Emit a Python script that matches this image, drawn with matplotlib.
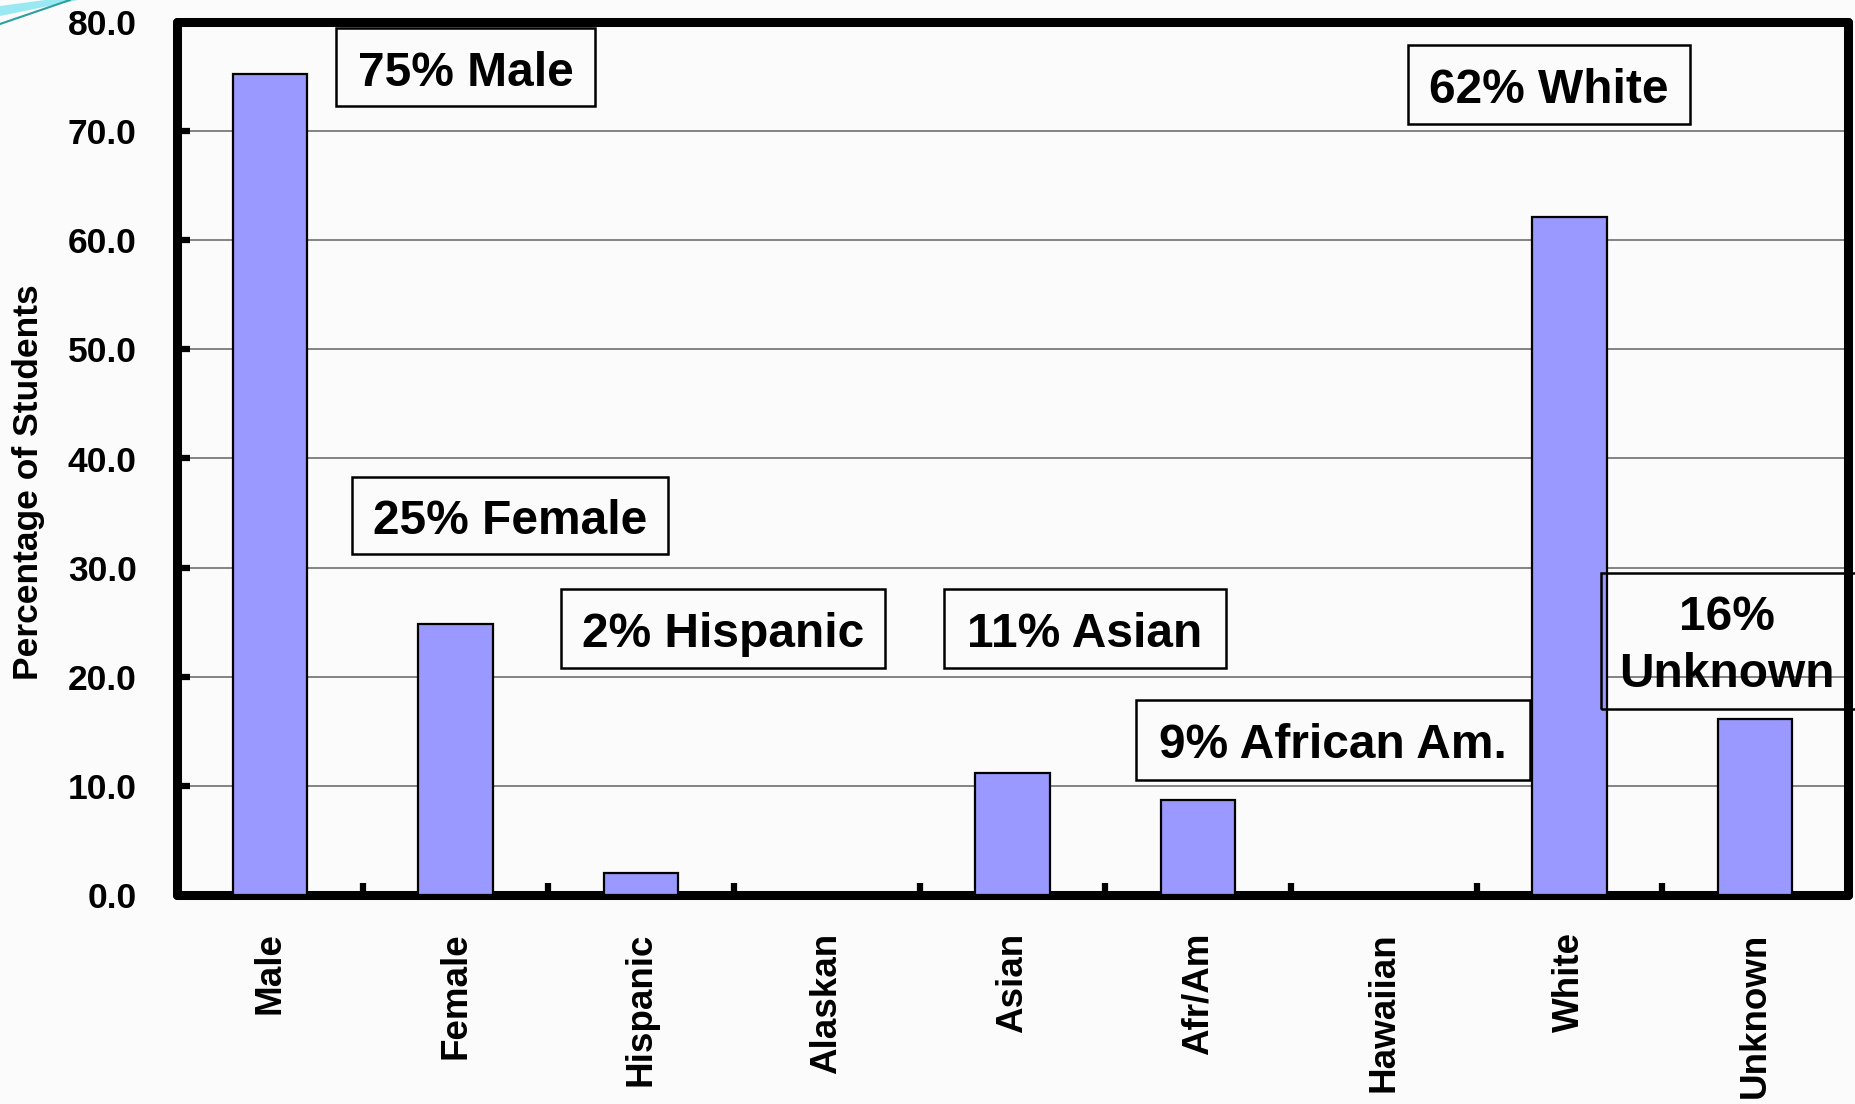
import matplotlib
matplotlib.use("Agg")
import matplotlib.pyplot as plt
from matplotlib.patches import Rectangle, Polygon
from matplotlib.lines import Line2D

plt.rcParams['font.family'] = ['Liberation Sans', 'DejaVu Sans']
plt.rcParams['font.weight'] = 'bold'

# ---- data ----
categories = ["Male", "Female", "Hispanic", "Alaskan", "Asian", "Afr/Am", "Hawaiian", "White", "Unknown"]
percentages = [75.2, 24.8, 2.0, 0.0, 11.2, 8.7, 0.0, 62.1, 16.1]
y_ticks = [0, 10, 20, 30, 40, 50, 60, 70, 80]
y_label = "Percentage of Students"
callout_texts = ["75% Male", "25% Female", "2% Hispanic", "11% Asian",
                 "9% African Am.", "62% White", "16%\nUnknown"]

W, H = 1855, 1104
fig = plt.figure(figsize=(W / 100, H / 100), dpi=100)
bg = '#fbfbfb'
fig.patch.set_facecolor(bg)

def fx(px):
    return px / W

def fy(py):
    return 1 - py / H

ax_l, ax_r, ax_t, ax_b = 177, 1848, 22, 895
ax = fig.add_axes([fx(ax_l), fy(ax_b), (ax_r - ax_l) / W, (ax_b - ax_t) / H])
ax.set_facecolor(bg)

x = list(range(len(categories)))
ax.bar(x, percentages, width=0.4, color='#9999FF', edgecolor='black', linewidth=1.6, zorder=3)

ax.set_xlim(-0.5, len(categories) - 0.5)
ax.set_ylim(0, 80)
ax.set_yticks(y_ticks)
ax.set_yticklabels([f"{v:.1f}" for v in y_ticks], fontsize=25.5, fontweight='bold')
ax.set_xticks(x)
ax.set_xticklabels(categories, rotation=90, fontsize=26.5, fontweight='bold')
ax.set_xticks([i + 0.5 for i in range(len(categories) - 1)], minor=True)

ax.tick_params(axis='x', which='major', length=0, pad=27)
ax.tick_params(axis='x', which='minor', direction='in', length=9, width=4.5, color='black')
ax.tick_params(axis='y', which='major', direction='in', length=9, width=4.5, color='black', pad=29)

ax.yaxis.grid(True, color='#7a7a7a', linewidth=1.3, zorder=0)
ax.set_axisbelow(True)
for s in ax.spines.values():
    s.set_linewidth(6.5)
    s.set_color('black')
    s.set_capstyle('round')

fig.text(fx(29), fy(482), y_label, rotation=90, ha='center', va='center',
         fontsize=25.5, fontweight='bold')

# ---- callout boxes (layout in pixels) ----
boxes = [(336, 28, 595, 106), (352, 477, 668, 554), (561, 589, 885, 668),
         (944, 589, 1226, 668), (1136, 700, 1530, 780), (1408, 45, 1690, 124),
         (1601, 573, 1875, 709)]
text_centers = [None, None, None, None, None, None, (1727, 646)]
for txt, (x0, y0, x1, y1), tc in zip(callout_texts, boxes, text_centers):
    rect = Rectangle((fx(x0), fy(y1)), (x1 - x0) / W, (y1 - y0) / H,
                     transform=fig.transFigure, fill=False, edgecolor='black',
                     linewidth=1.8, zorder=10)
    fig.add_artist(rect)
    cx, cy = tc if tc else ((x0 + x1) / 2, (y0 + y1) / 2 + 6)
    fig.text(fx(cx), fy(cy), txt, ha='center', va='center', fontsize=34.5,
             fontweight='bold', linespacing=1.32, zorder=11)

# ---- decorative swoosh in the top-left corner ----
fig.add_artist(Polygon([(fx(0), fy(16)), (fx(0), fy(6)), (fx(45), fy(0)), (fx(78), fy(0))],
                       closed=True, transform=fig.transFigure, facecolor='#8fe6f2',
                       edgecolor='none', alpha=0.9))
fig.add_artist(Line2D([fx(0), fx(70)], [fy(24), fy(0)], transform=fig.transFigure,
                      color='#2aa0a0', linewidth=1.5))

fig.savefig("out.png", dpi=100, facecolor=fig.get_facecolor())
